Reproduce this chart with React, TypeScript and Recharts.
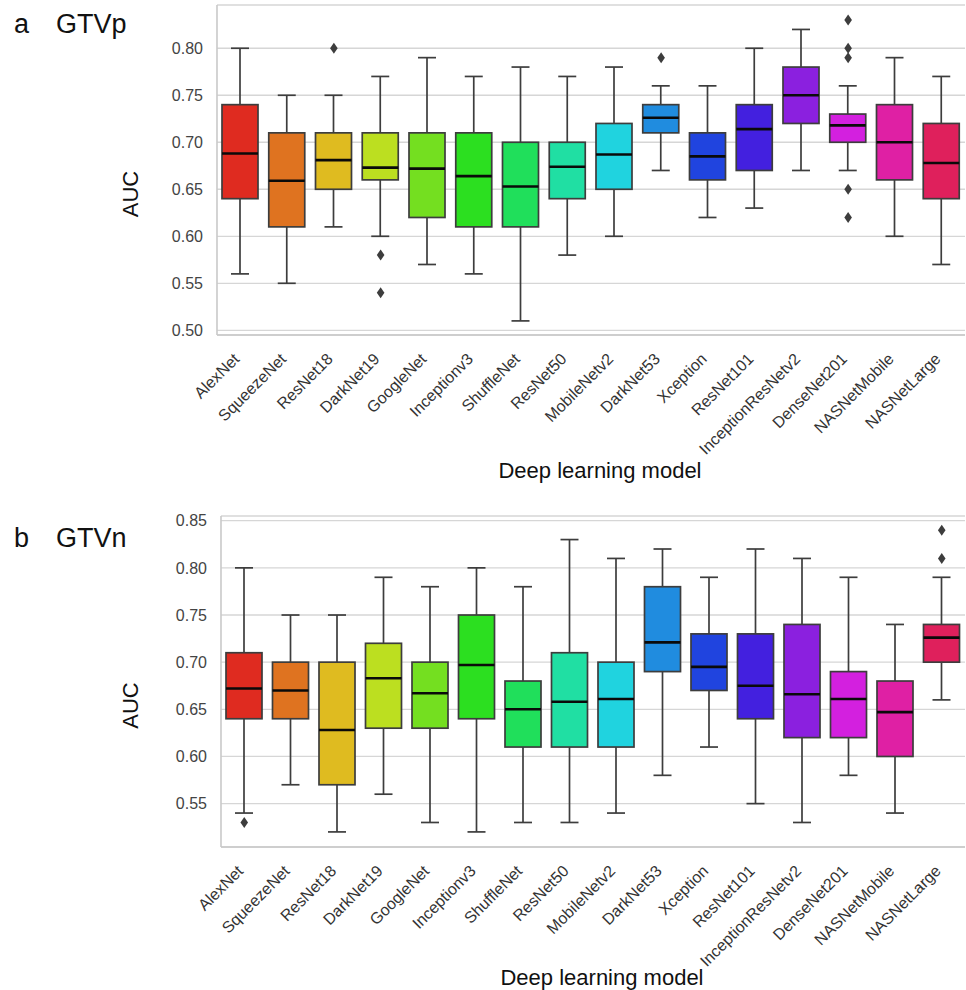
import React from 'react';
import { ComposedChart, Bar, Line, Cell, XAxis, YAxis, CartesianGrid } from 'recharts';

const models = [
  'AlexNet', 'SqueezeNet', 'ResNet18', 'DarkNet19', 'GoogleNet', 'Inceptionv3', 'ShuffleNet', 'ResNet50',
  'MobileNetv2', 'DarkNet53', 'Xception', 'ResNet101', 'InceptionResNetv2', 'DenseNet201', 'NASNetMobile', 'NASNetLarge',
];

// seaborn hls palette, desaturated like boxplot does
const palette = [
  '#df2b20', '#df7320', '#dfbb20', '#bcdf20', '#74df20', '#2cdf20', '#20df5b', '#20dfa3',
  '#20d3df', '#208cdf', '#2044df', '#4320df', '#8b20df', '#d320df', '#df20a4', '#df205c',
];

// a: GTVp
const gtvpLow = [0.56, 0.55, 0.61, 0.60, 0.57, 0.56, 0.51, 0.58, 0.60, 0.67, 0.62, 0.63, 0.67, 0.67, 0.60, 0.57];
const gtvpQ1 = [0.64, 0.61, 0.65, 0.66, 0.62, 0.61, 0.61, 0.64, 0.65, 0.71, 0.66, 0.67, 0.72, 0.70, 0.66, 0.64];
const gtvpMedian = [0.688, 0.659, 0.681, 0.673, 0.672, 0.664, 0.653, 0.674, 0.687, 0.726, 0.685, 0.714, 0.750, 0.718, 0.700, 0.678];
const gtvpQ3 = [0.74, 0.71, 0.71, 0.71, 0.71, 0.71, 0.70, 0.70, 0.72, 0.74, 0.71, 0.74, 0.78, 0.73, 0.74, 0.72];
const gtvpHigh = [0.80, 0.75, 0.75, 0.77, 0.79, 0.77, 0.78, 0.77, 0.78, 0.76, 0.76, 0.80, 0.82, 0.76, 0.79, 0.77];
const gtvpOutliers: number[][] = [
  [], [], [0.80], [0.58, 0.54], [], [], [], [],
  [], [0.79], [], [], [], [0.83, 0.80, 0.79, 0.65, 0.62], [], [],
];
const gtvpTicks = [0.50, 0.55, 0.60, 0.65, 0.70, 0.75, 0.80];

// b: GTVn
const gtvnLow = [0.54, 0.57, 0.52, 0.56, 0.53, 0.52, 0.53, 0.53, 0.54, 0.58, 0.61, 0.55, 0.53, 0.58, 0.54, 0.66];
const gtvnQ1 = [0.64, 0.64, 0.57, 0.63, 0.63, 0.64, 0.61, 0.61, 0.61, 0.69, 0.67, 0.64, 0.62, 0.62, 0.60, 0.70];
const gtvnMedian = [0.672, 0.670, 0.628, 0.683, 0.667, 0.697, 0.650, 0.658, 0.661, 0.721, 0.695, 0.675, 0.666, 0.661, 0.647, 0.726];
const gtvnQ3 = [0.71, 0.70, 0.70, 0.72, 0.70, 0.75, 0.68, 0.71, 0.70, 0.78, 0.73, 0.73, 0.74, 0.69, 0.68, 0.74];
const gtvnHigh = [0.80, 0.75, 0.75, 0.79, 0.78, 0.80, 0.78, 0.83, 0.81, 0.82, 0.79, 0.82, 0.81, 0.79, 0.74, 0.79];
const gtvnOutliers: number[][] = [
  [0.53], [], [], [], [], [], [], [],
  [], [], [], [], [], [], [], [0.84, 0.81],
];
const gtvnTicks = [0.55, 0.60, 0.65, 0.70, 0.75, 0.80, 0.85];

const outlierKeys = ['o1', 'o2', 'o3', 'o4', 'o5'];

const FONT = '"Liberation Sans", Arial, sans-serif';
const EDGE = '#3d3d3d';
const GRID = '#d6d6d6';
const FRAME = '#c9c9c9';

function buildRows(low: number[], q1: number[], med: number[], q3: number[], high: number[], outliers: number[][]) {
  return models.map((model, i) => {
    const row: any = { model, low: low[i], q1: q1[i], med: med[i], q3: q3[i], high: high[i] };
    outlierKeys.forEach((k, j) => {
      row[k] = outliers[i][j] ?? null;
    });
    return row;
  });
}

const gtvpRows = buildRows(gtvpLow, gtvpQ1, gtvpMedian, gtvpQ3, gtvpHigh, gtvpOutliers);
const gtvnRows = buildRows(gtvnLow, gtvnQ1, gtvnMedian, gtvnQ3, gtvnHigh, gtvnOutliers);

// the bar spans low..high whisker; box and median are placed inside that span
function BoxShape(props: any) {
  const { x, y, width, height, payload, fill } = props;
  if (x == null || y == null || !payload) return null;
  const top = Math.min(y, y + height);
  const bottom = Math.max(y, y + height);
  const span = payload.high - payload.low;
  const toY = (v: number) => bottom - ((v - payload.low) / span) * (bottom - top);
  const cx = x + width / 2;
  const cap = width / 4;
  const yQ1 = toY(payload.q1);
  const yQ3 = toY(payload.q3);
  const yMed = toY(payload.med);
  return (
    <g>
      <line x1={cx} x2={cx} y1={top} y2={yQ3} stroke={EDGE} strokeWidth={1.7} />
      <line x1={cx} x2={cx} y1={yQ1} y2={bottom} stroke={EDGE} strokeWidth={1.7} />
      <line x1={cx - cap} x2={cx + cap} y1={top} y2={top} stroke={EDGE} strokeWidth={1.7} />
      <line x1={cx - cap} x2={cx + cap} y1={bottom} y2={bottom} stroke={EDGE} strokeWidth={1.7} />
      <rect x={x} y={yQ3} width={width} height={yQ1 - yQ3} fill={fill} stroke={EDGE} strokeWidth={1.7} />
      <line x1={x} x2={x + width} y1={yMed} y2={yMed} stroke="#0a0a0a" strokeWidth={2.6} />
    </g>
  );
}

function Diamond(props: any) {
  const { cx, cy, value, index } = props;
  if (value == null || cx == null || cy == null) return <g key={index} />;
  return (
    <path
      key={index}
      d={`M${cx},${cy - 5.5} L${cx + 3.8},${cy} L${cx},${cy + 5.5} L${cx - 3.8},${cy} Z`}
      fill={EDGE}
    />
  );
}

function ModelTick(props: any) {
  const { x, y, payload } = props;
  const ty = y + 25;
  return (
    <text x={x} y={ty} transform={`rotate(-45 ${x} ${ty})`} textAnchor="end" fontSize={16} fill="#333" fontFamily={FONT}>
      {payload.value}
    </text>
  );
}

interface PanelProps {
  rows: any[];
  domain: [number, number];
  ticks: number[];
  top: number;
  height: number;
  axisWidth: number;
  axisHeight: number;
  xLabelBaseline: number;
  titleBaseline: number;
  letter: string;
  name: string;
}

function Panel({ rows, domain, ticks, top, height, axisWidth, axisHeight, xLabelBaseline, titleBaseline, letter, name }: PanelProps) {
  const xLabel = (p: any) => {
    const vb = p.viewBox;
    return (
      <text x={vb.x + vb.width / 2 + 9} y={vb.y + xLabelBaseline} textAnchor="middle" fontSize={22} fill="#111" fontFamily={FONT}>
        Deep learning model
      </text>
    );
  };
  const yLabel = (p: any) => {
    const vb = p.viewBox;
    const cx = 130;
    const cy = vb.y + vb.height / 2 + 24;
    return (
      <text x={cx} y={cy} transform={`rotate(-90 ${cx} ${cy})`} textAnchor="middle" dominantBaseline="central" fontSize={22} fill="#111" fontFamily={FONT}>
        AUC
      </text>
    );
  };
  return (
    <div style={{ position: 'absolute', left: 0, top, width: 966, height }}>
      <ComposedChart width={966} height={height} data={rows} margin={{ top: 5, right: 1, left: 0, bottom: 0 }}>
        <CartesianGrid vertical={false} stroke={GRID} strokeWidth={1.3} />
        <XAxis
          dataKey="model"
          interval={0}
          height={axisHeight}
          tickLine={false}
          tickSize={0}
          tickMargin={0}
          axisLine={{ stroke: FRAME, strokeWidth: 1.6 }}
          tick={<ModelTick />}
          label={xLabel}
        />
        <XAxis xAxisId="top" dataKey="model" orientation="top" height={0} tick={false} tickLine={false} axisLine={{ stroke: FRAME, strokeWidth: 1.6 }} />
        <YAxis
          type="number"
          domain={domain}
          ticks={ticks}
          width={axisWidth}
          tickLine={false}
          tickSize={0}
          tickMargin={14}
          axisLine={{ stroke: FRAME, strokeWidth: 1.6 }}
          tickFormatter={(v: number) => v.toFixed(2)}
          tick={{ fontSize: 16, fill: '#444', fontFamily: FONT }}
          label={yLabel}
        />
        <YAxis yAxisId="r" orientation="right" type="number" domain={domain} width={0} tick={false} tickLine={false} axisLine={{ stroke: FRAME, strokeWidth: 1.6 }} />
        <Bar dataKey={(d: any) => [d.low, d.high]} barSize={36} shape={<BoxShape />} isAnimationActive={false}>
          {rows.map((r, i) => (
            <Cell key={r.model} fill={palette[i]} />
          ))}
        </Bar>
        {outlierKeys.map((k) => (
          <Line
            key={k}
            dataKey={k}
            stroke="none"
            dot={Diamond}
            activeDot={false}
            legendType="none"
            isAnimationActive={false}
          />
        ))}
      </ComposedChart>
      <svg width={200} height={60} style={{ position: 'absolute', left: 0, top: 0 }}>
        <text x={14} y={titleBaseline} fontSize={27} fill="#111" fontFamily={FONT}>{letter}</text>
        <text x={56} y={titleBaseline} fontSize={27} fill="#111" fontFamily={FONT}>{name}</text>
      </svg>
    </div>
  );
}

export default function App() {
  return (
    <div style={{ position: 'absolute', left: 0, top: 0, width: 966, height: 990, background: '#fff', fontFamily: FONT }}>
      <Panel
        rows={gtvpRows}
        domain={[0.495, 0.846]}
        ticks={gtvpTicks}
        top={0}
        height={495}
        axisWidth={217}
        axisHeight={160}
        xLabelBaseline={143}
        titleBaseline={33}
        letter="a"
        name="GTVp"
      />
      <Panel
        rows={gtvnRows}
        domain={[0.504, 0.855]}
        ticks={gtvnTicks}
        top={511}
        height={479}
        axisWidth={221}
        axisHeight={143}
        xLabelBaseline={138}
        titleBaseline={36}
        letter="b"
        name="GTVn"
      />
    </div>
  );
}
